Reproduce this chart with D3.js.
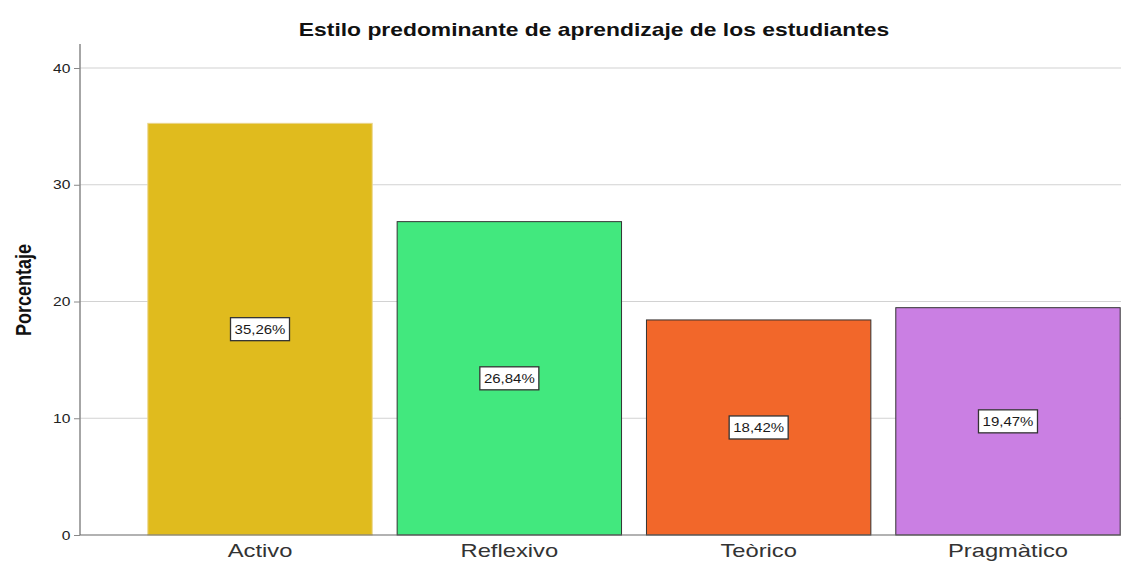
<!DOCTYPE html>
<html>
<head>
<meta charset="utf-8">
<script src="https://cdn.jsdelivr.net/npm/d3@7"></script>
<style>
  body { margin: 0; background: #fff; }
  svg { display: block; font-family: "Liberation Sans", Arial, sans-serif; }
</style>
</head>
<body>
<svg id="chart" width="1121" height="563"></svg>
<script>
// data
const categories = ['Activo', 'Reflexivo', 'Teòrico', 'Pragmàtico']
const percents = [35.26, 26.84, 18.42, 19.47]
const labels = ['35,26%', '26,84%', '18,42%', '19,47%']
const colors = ['#e0bb1e', '#42e87e', '#f2672a', '#ca7fe3']
const yTicks = [0, 10, 20, 30, 40]

const svg = d3.select('#chart')
const x0 = 80, yBottom = 535, yTop = 44
const stretch = 1.25 // the source picture is a bit wider than tall

const x = d3.scaleBand()
    .domain(categories)
    .range([x0, 1188])
    .paddingInner(0.1)
    .paddingOuter(0.272)

const y = d3.scaleLinear()
    .domain([0, 40])
    .range([yBottom, 68])

// grid lines
svg.append('g')
    .selectAll('line')
    .data(yTicks.filter(d => d > 0))
    .enter()
    .append('line')
    .attr('x1', x0).attr('x2', 1121)
    .attr('y1', d => y(d)).attr('y2', d => y(d))
    .attr('stroke', '#d2d2d2')
    .attr('stroke-width', 1.2)

// bars
const data = categories.map((c, i) => ({cat: c, val: percents[i], label: labels[i], color: colors[i]}))

svg.append('g')
    .selectAll('rect')
    .data(data)
    .enter()
    .append('rect')
    .attr('x', d => x(d.cat))
    .attr('y', d => y(d.val))
    .attr('width', x.bandwidth())
    .attr('height', d => y(0) - y(d.val))
    .attr('fill', d => d.color)
    .attr('stroke', (d, i) => i == 0 ? '#ead58a' : '#333')
    .attr('stroke-width', 1)

// value labels
const lab = svg.append('g')
    .selectAll('g')
    .data(data)
    .enter()
    .append('g')
    .attr('transform', d => 'translate(' + (x(d.cat) + x.bandwidth() / 2) + ',' + y(d.val / 2) + ')')

lab.append('rect')
    .attr('x', -29.5).attr('y', -11.5)
    .attr('width', 59).attr('height', 23)
    .attr('fill', '#fff')
    .attr('stroke', '#333')
    .attr('stroke-width', 1.3)

lab.append('text')
    .attr('text-anchor', 'middle')
    .attr('dy', '0.36em')
    .attr('transform', 'scale(1.2,1)')
    .attr('font-size', 12.5)
    .attr('fill', '#1a1a1a')
    .text(d => d.label)

// axes
const yAxis = d3.axisLeft(y).tickValues(yTicks).tickSize(6).tickPadding(2)
const gy = svg.append('g').attr('transform', 'translate(' + x0 + ',0)').call(yAxis)
gy.select('.domain').remove()
gy.selectAll('.tick line').attr('stroke', '#888')
gy.selectAll('.tick text')
    .attr('font-size', 13)
    .attr('transform', 'scale(1.2,1)')
    .attr('fill', '#222')
    .attr('font-family', '"Liberation Sans", Arial, sans-serif')

svg.append('line')
    .attr('x1', x0).attr('x2', x0)
    .attr('y1', yTop).attr('y2', yBottom)
    .attr('stroke', '#888').attr('stroke-width', 1.5)

const xAxis = d3.axisBottom(x).tickSize(0).tickPadding(9)
const gx = svg.append('g').attr('transform', 'translate(0,' + yBottom + ')').call(xAxis)
gx.select('.domain').remove()
gx.selectAll('.tick text')
    .attr('font-size', 19)
    .attr('transform', 'scale(' + stretch + ',1)')
    .attr('fill', '#333')
    .attr('font-family', '"Liberation Sans", Arial, sans-serif')

svg.append('line')
    .attr('x1', x0).attr('x2', 1121)
    .attr('y1', yBottom).attr('y2', yBottom)
    .attr('stroke', '#666').attr('stroke-width', 1.2)

// title and y label
svg.append('text')
    .attr('transform', 'translate(594,36) scale(1.27,1)')
    .attr('text-anchor', 'middle')
    .attr('font-size', 18)
    .attr('font-weight', 'bold')
    .attr('fill', '#111')
    .text('Estilo predominante de aprendizaje de los estudiantes')

svg.append('text')
    .attr('transform', 'translate(31,290) scale(' + stretch + ',1) rotate(-90)')
    .attr('text-anchor', 'middle')
    .attr('font-size', 18)
    .attr('font-weight', 'bold')
    .attr('fill', '#111')
    .text('Porcentaje')
</script>
</body>
</html>
